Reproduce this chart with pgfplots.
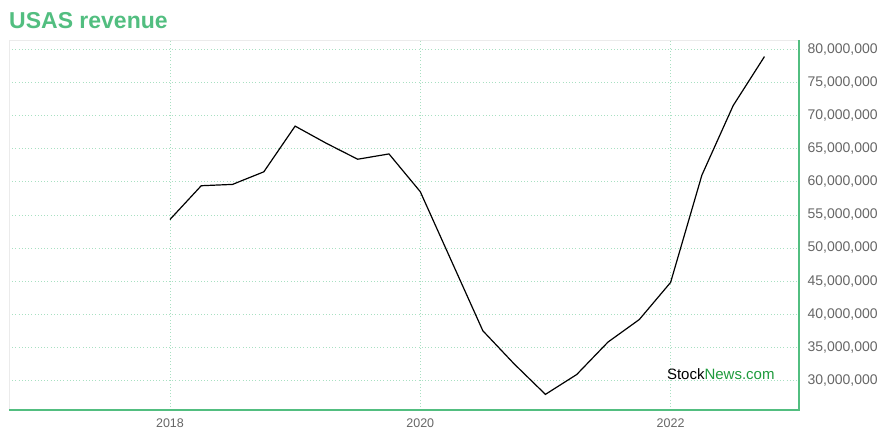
\documentclass[border=0pt]{standalone}
\usepackage{pgfplots}
\pgfplotsset{compat=1.18}
\usepackage{fontspec}
\setmainfont{Liberation Sans}
\definecolor{sngreen}{HTML}{52BE80}
\definecolor{gridgreen}{HTML}{A8E0C2}
\definecolor{tickgray}{HTML}{666666}
\definecolor{wmgreen}{HTML}{1E9A3C}
\begin{document}
\begin{tikzpicture}[x=1pt,y=1pt]
\useasboundingbox (0,0) rectangle (880,440);
\node[anchor=base west, text=sngreen, font=\fontsize{23}{26}\selectfont\bfseries, inner sep=0pt] at (9,411) {USAS revenue};
\begin{axis}[
  at={(9pt,30pt)}, anchor=south west,
  width=790pt, height=370pt, scale only axis,
  xmin=2016.714, xmax=2023.026,
  ymin=25540000, ymax=81400000,
  xtick={2018,2020,2022},
  ytick={30000000,35000000,40000000,45000000,50000000,55000000,60000000,65000000,70000000,75000000,80000000},
  scaled ticks=false,
  x tick label style={/pgf/number format/fixed, /pgf/number format/1000 sep={}, yshift=-5pt, font=\fontsize{12.5}{14}\selectfont},
  y tick label style={/pgf/number format/fixed, /pgf/number format/1000 sep={,}, xshift=5pt, font=\fontsize{14}{16}\selectfont},
  /pgf/number format/assume math mode=true,
  ticklabel style={text=tickgray},
  yticklabel pos=right,
  major tick length=0pt,
  axis line style={draw=none},
  grid=major,
  major grid style={gridgreen, line width=0.7pt, dash pattern=on 0.8pt off 2.4pt},
  clip=false,
]
\addplot[black, line width=1.2pt, mark=none] coordinates {
(2018.00,54300000)
(2018.25,59400000)
(2018.50,59600000)
(2018.75,61500000)
(2019.00,68400000)
(2019.25,65800000)
(2019.50,63400000)
(2019.75,64200000)
(2020.00,58500000)
(2020.25,48000000)
(2020.50,37500000)
(2020.75,32500000)
(2021.00,27900000)
(2021.25,30900000)
(2021.50,35800000)
(2021.75,39200000)
(2022.00,44800000)
(2022.25,61000000)
(2022.50,71500000)
(2022.75,78900000)
};
\draw[black!8, line width=0.8pt] (rel axis cs:0,0) -- (rel axis cs:0,1) -- (rel axis cs:1,1);
\draw[sngreen, line width=2.5pt] (rel axis cs:0,0) -- (rel axis cs:1,0) -- (rel axis cs:1,1);
\node[font=\fontsize{15}{17}\selectfont, inner sep=0pt] at (rel axis cs:0.901,0.097) {Stock\textcolor{wmgreen}{News.com}};
\end{axis}
\end{tikzpicture}
\end{document}
